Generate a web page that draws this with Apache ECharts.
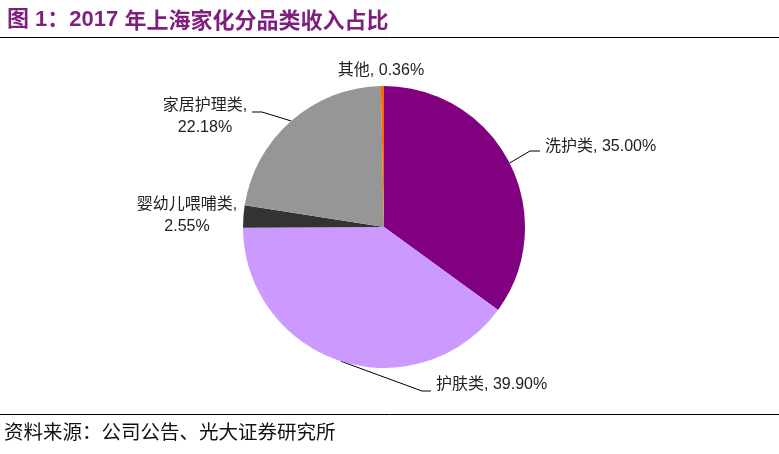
<!DOCTYPE html>
<html>
<head>
<meta charset="utf-8">
<script src="https://cdn.jsdelivr.net/npm/echarts@6/dist/echarts.min.js"></script>
<style>
html,body{margin:0;padding:0;background:#fff;}
#main{width:779px;height:454px;}
</style>
</head>
<body>
<div id="main"></div>
<script>
var categories = ['洗护类', '护肤类', '婴幼儿喂哺类', '家居护理类', '其他'];
var values = [35.00, 39.90, 2.55, 22.18, 0.36];
var colors = ['#800080', '#CC99FF', '#333333', '#969696', '#FF6600'];
var titleText = '图 1：2017 年上海家化分品类收入占比';
var sourceText = '资料来源：公司公告、光大证券研究所';

// label placement (presentation only)
var labelPlaces = [
  {x: 545, y: 147, align: 'left', mid: [530, 151], end: [540, 151], multi: false},
  {x: 436, y: 385, align: 'left', mid: [422, 391], end: [431, 391], multi: false},
  {x: 187, y: 216, align: 'center', mid: null, end: null, multi: true},
  {x: 205, y: 117, align: 'center', mid: [262, 112], end: [252, 112], multi: true},
  {x: 381, y: 71, align: 'center', mid: null, end: null, multi: false}
];

var chart = echarts.init(document.getElementById('main'));
var data = categories.map(function (c, i) {
  return {name: c, value: values[i], itemStyle: {color: colors[i]}};
});

chart.setOption({
  animation: false,
  backgroundColor: '#fff',
  title: {
    text: '{b|图 1：2017 }{n|年上海家化分品类收入占比}',
    left: 2, top: 4,
    textStyle: {
      rich: {
        b: {fontSize: 22, fontWeight: 'bold', color: '#7E1F7E', fontFamily: 'Liberation Sans, Noto Sans CJK SC'},
        n: {fontSize: 22, fontWeight: 'bold', color: '#7E1F7E', fontFamily: 'Noto Sans CJK SC'}
      }
    }
  },
  graphic: [
    {type: 'line', shape: {x1: 0, y1: 37.5, x2: 779, y2: 37.5}, style: {stroke: '#000', lineWidth: 1}},
    {type: 'line', shape: {x1: 0, y1: 414.5, x2: 779, y2: 414.5}, style: {stroke: '#000', lineWidth: 1}},
    {type: 'text', left: 4, top: 422, style: {text: sourceText, font: '19.5px "Noto Sans CJK SC"', fill: '#111'}}
  ],
  series: [{
    type: 'pie',
    center: [384, 227],
    radius: [0, 141],
    startAngle: 90,
    clockwise: true,
    data: data,
    itemStyle: {borderWidth: 0},
    label: {
      show: true,
      position: 'outside',
      fontSize: 16,
      lineHeight: 22,
      color: '#222',
      fontFamily: 'Liberation Sans, Noto Sans CJK SC',
      formatter: function (p) {
        var sep = labelPlaces[p.dataIndex].multi ? ',\n' : ', ';
        return p.name + sep + p.value.toFixed(2) + '%';
      }
    },
    labelLine: {show: true, lineStyle: {color: '#000', width: 1}},
    labelLayout: function (p) {
      var lp = labelPlaces[p.dataIndex];
      var res = {x: lp.x, y: lp.y, align: lp.align, verticalAlign: 'middle'};
      if (lp.mid && p.labelLinePoints) {
        res.labelLinePoints = [p.labelLinePoints[0], lp.mid, lp.end];
      } else {
        res.labelLinePoints = [[0,0],[0,0],[0,0]];
      }
      return res;
    },
    emphasis: {disabled: true}
  }]
});
</script>
</body>
</html>
